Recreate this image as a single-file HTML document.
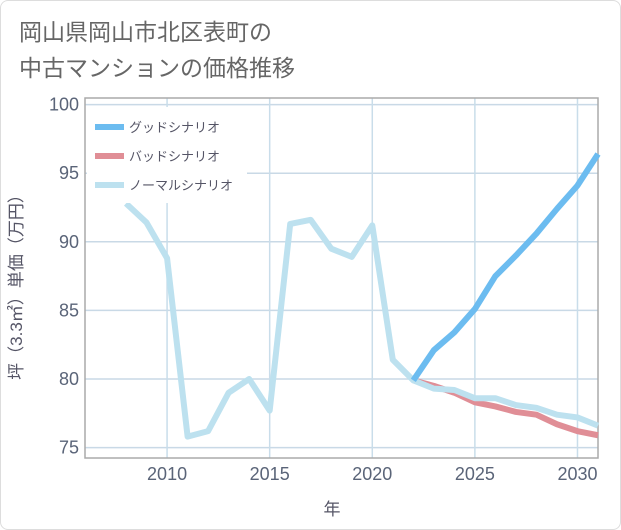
<!DOCTYPE html>
<html><head><meta charset="utf-8"><style>
body{margin:0;background:#fff;font-family:"Liberation Sans","Noto Sans CJK JP",sans-serif;}
#wrap{position:relative;width:619px;height:528px;border:1px solid #ddd;border-radius:8px;overflow:hidden;background:#fff}
#title{position:absolute;left:18px;top:13px;font-size:23px;line-height:36px;color:#666}
svg{position:absolute;left:0;top:0}
</style></head><body>
<div id="wrap">
<div id="title">岡山県岡山市北区表町の<br>中古マンションの価格推移</div>
<svg id="chart" width="621" height="530"></svg>
</div>
<script>
const years=[2008,2009,2010,2011,2012,2013,2014,2015,2016,2017,2018,2019,2020,2021,2022,2023,2024,2025,2026,2027,2028,2029,2030,2031];
const normal=[92.8,91.4,88.8,75.8,76.2,79.0,80.0,77.7,91.3,91.6,89.5,88.9,91.2,81.4,79.9,79.3,79.2,78.6,78.6,78.1,77.9,77.4,77.2,76.6];
const goodYears=[2022,2023,2024,2025,2026,2027,2028,2029,2030,2031];
const good=[79.9,82.1,83.4,85.1,87.5,89.0,90.6,92.4,94.1,96.4];
const bad=[79.9,79.5,79.0,78.3,78.0,77.6,77.4,76.7,76.2,75.9];
const yTicks=[75,80,85,90,95,100];
const xTicks=[2010,2015,2020,2025,2030];
const L=84,R=597,T=97,B=457;
const X=y=>L+(y-2006)*(R-L)/25;
const Y=v=>103.6+(100-v)*13.72;
const svg=document.getElementById('chart');const NS='http://www.w3.org/2000/svg';
function mk(t,a,p){const e=document.createElementNS(NS,t);for(const k in a)e.setAttribute(k,a[k]);(p||svg).appendChild(e);return e;}
yTicks.forEach(v=>{const l=mk('line',{x1:L,x2:R,y1:Y(v),y2:Y(v),stroke:'#c9d9e6','stroke-width':1.5});


const t=mk('text',{x:78,y:Y(v)+6,'text-anchor':'end','font-size':18,fill:'#5a6478'});t.textContent=v;

});
xTicks.forEach(v=>{const l=mk('line',{x1:X(v),x2:X(v),y1:T,y2:B,stroke:'#c9ddea','stroke-width':1.5});


const t=mk('text',{x:X(v),y:479,'text-anchor':'middle','font-size':18,fill:'#5a6478'});t.textContent=v;

});
const fr=mk('rect',{x:L,y:T,width:R-L,height:B-T,fill:'none',stroke:'#aaa','stroke-width':1.5});


function line(xs,vs,c,n){const p=mk('polyline',{points:xs.map((y,i)=>X(y)+','+Y(vs[i])).join(' '),fill:'none',stroke:c,'stroke-width':6,'stroke-linejoin':'round'});

}
line(goodYears,bad,'#e08e96','bad-scenario-line');
line(years,normal,'#bde1ef','normal-scenario-line');
line(goodYears,good,'#6cbcf0','good-scenario-line');
const lg=mk('rect',{x:86,y:106,width:160,height:96,fill:'#fff'});


[['グッドシナリオ','#6cbcf0'],['バッドシナリオ','#e08e96'],['ノーマルシナリオ','#bde1ef']].forEach((d,i)=>{const y=126+i*29;
const s=mk('line',{x1:94,x2:123,y1:y,y2:y,stroke:d[1],'stroke-width':6});


const t=mk('text',{x:128,y:y+5,'font-size':13,fill:'#556'});t.textContent=d[0];

});
const yt=mk('text',{x:0,y:0,'font-size':17,fill:'#556','text-anchor':'middle',transform:'translate(21,282) rotate(-90)'});yt.textContent='坪（3.3㎡）単価（万円）';


const xt=mk('text',{x:331,y:514,'font-size':17,fill:'#556','text-anchor':'middle'});xt.textContent='年';


</script>
</body></html>
